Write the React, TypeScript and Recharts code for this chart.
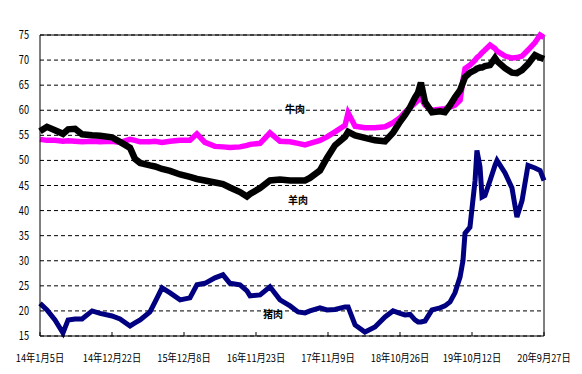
import { LineChart, Line, XAxis, YAxis, CartesianGrid, ReferenceLine, ReferenceDot } from "recharts";

// days since 14年1月5日
const dayOffsets = [
  0, 34, 73, 112, 137, 171, 205, 254, 293, 351, 390, 439, 463, 488, 536, 561, 595, 634, 683, 731,
  765, 804, 853, 892, 926, 975, 1009, 1024, 1073, 1121, 1170, 1219, 1258, 1292, 1316, 1365, 1399, 1438, 1487, 1502,
  1536, 1584, 1633, 1682, 1721, 1755, 1779, 1804, 1828, 1843, 1857, 1877, 1911, 1950, 1974, 1999, 2023, 2048, 2062, 2072,
  2096, 2121, 2130, 2145, 2155, 2169, 2194, 2218, 2228, 2267, 2301, 2325, 2350, 2379, 2413, 2438, 2457,
];

const porkPrice = [
  21.5, 20.2, 18.2, 15.6, 18.2, 18.4, 18.4, 20.0, 19.5, 19.0, 18.4, 17.0, 17.6, 18.2, 19.8, 21.8, 24.6, 23.6, 22.2, 22.6,
  25.2, 25.5, 26.6, 27.2, 25.5, 25.2, 24.0, 23.0, 23.2, 24.8, 22.2, 21.0, 19.8, 19.6, 20.0, 20.6, 20.2, 20.3, 20.8, 20.8,
  17.2, 15.8, 16.8, 18.8, 20.0, 19.5, 19.2, 19.3, 18.2, 17.8, 17.8, 18.0, 20.2, 20.6, 21.0, 21.8, 23.6, 26.8, 30.0, 35.5,
  36.7, 46.0, 52.0, 48.7, 42.7, 43.0, 46.0, 49.0, 50.0, 47.5, 44.5, 38.7, 42.0, 49.0, 48.5, 48.0, 46.0,
];

const beefPrice = [
  54.2, 54.0, 54.0, 53.8, 53.9, 53.8, 53.7, 53.8, 53.7, 53.8, 53.6, 54.2, 54.0, 53.7, 53.7, 53.8, 53.6, 53.8, 54.0, 54.0,
  55.3, 53.6, 52.8, 52.7, 52.6, 52.7, 53.0, 53.2, 53.4, 55.5, 53.8, 53.7, 53.4, 53.1, 53.4, 54.0, 54.7, 55.7, 57.0, 59.5,
  56.8, 56.5, 56.5, 56.7, 57.5, 58.5, 59.6, 60.5, 61.4, 62.0, 62.4, 61.0, 60.0, 60.2, 60.3, 60.6, 61.0, 62.0, 66.0, 68.3,
  69.0, 70.0, 70.5, 71.0, 71.5, 72.0, 73.0, 72.3, 71.8, 70.8, 70.4, 70.5, 70.8, 72.0, 73.5, 75.0, 74.5,
];

const muttonPrice = [
  55.8, 56.7, 56.0, 55.3, 56.2, 56.3, 55.2, 55.0, 54.9, 54.6, 53.7, 52.5, 50.3, 49.5, 49.0, 48.8, 48.3, 47.9, 47.2, 46.7,
  46.3, 46.0, 45.6, 45.3, 44.6, 43.7, 42.8, 43.3, 44.5, 46.0, 46.2, 46.0, 46.0, 46.0, 46.5, 48.0, 50.5, 53.0, 54.7, 55.7,
  55.0, 54.5, 54.0, 53.8, 55.5, 57.7, 59.0, 60.6, 62.5, 63.5, 65.5, 61.6, 59.6, 59.8, 59.6, 61.0, 62.6, 64.0, 65.5, 66.6,
  67.5, 68.0, 68.3, 68.5, 68.5, 68.8, 69.0, 70.4, 69.8, 68.4, 67.5, 67.4, 68.0, 69.2, 71.0, 70.5, 70.2,
];

const dateLabels = ["14年1月5日", "14年12月22日", "15年12月8日", "16年11月23日", "17年11月9日", "18年10月26日", "19年10月12日", "20年9月27日"];
const labelDays = [0, 351, 702, 1053, 1404, 1755, 2106, 2457];
const yTicks = [15, 20, 25, 30, 35, 40, 45, 50, 55, 60, 65, 70, 75];

const data = dayOffsets.map((d, i) => ({
  day: d,
  pork: porkPrice[i],
  beef: beefPrice[i],
  mutton: muttonPrice[i],
}));

// narrow text, like the old excel font
const textWidth = (s: string) => {
  let w = 0;
  for (const ch of s) w += /[0-9]/.test(ch) ? 5.1 : 9.3;
  return w;
};

const XTick = ({ x, y, payload }: any) => {
  const label = dateLabels[labelDays.indexOf(payload.value)] ?? "";
  return (
    <g>
      <line x1={x} x2={x} y1={y} y2={y - 4} stroke="#000" />
      <text x={x} y={y + 26} textAnchor="middle" fontSize={11} fill="#000" textLength={textWidth(label)} lengthAdjust="spacingAndGlyphs">
        {label}
      </text>
    </g>
  );
};

const YTick = ({ y, payload }: any) => {
  const s = String(payload.value);
  return (
    <text x={29} y={y + 4} textAnchor="end" fontSize={12} fill="#000" textLength={textWidth(s)} lengthAdjust="spacingAndGlyphs">
      {s}
    </text>
  );
};

const seriesLabel = (value: string) => ({ value, position: "center" as const, fontSize: 10, fontWeight: 700, fill: "#000" });

export default function App() {
  return (
    <div style={{ position: "fixed", left: 0, top: 0, width: 582, height: 374, background: "#fff", fontFamily: "'Noto Sans CJK SC', sans-serif" }}>
      <LineChart width={582} height={374} data={data} margin={{ top: 35, right: 38, bottom: 0, left: 0 }}>
        <CartesianGrid horizontal vertical={false} stroke="#000" strokeDasharray="4 3" />
        <XAxis
          dataKey="day"
          type="number"
          domain={[0, 2457]}
          ticks={labelDays}
          interval={0}
          height={38}
          tickSize={0}
          tickMargin={0}
          tickLine={false}
          axisLine={{ stroke: "#000" }}
          tick={<XTick />}
        />
        <YAxis
          type="number"
          domain={[15, 75]}
          ticks={yTicks}
          interval={0}
          width={40}
          tickSize={0}
          tickMargin={0}
          tickLine={false}
          axisLine={{ stroke: "#000" }}
          tick={<YTick />}
        />
        <ReferenceLine y={75} stroke="#000" />
        <ReferenceLine x={2457} stroke="#000" />
        <Line dataKey="beef" stroke="#FF00FF" strokeWidth={5.5} dot={false} isAnimationActive={false} />
        <Line dataKey="mutton" stroke="#000000" strokeWidth={6.5} dot={false} isAnimationActive={false} />
        <Line dataKey="pork" stroke="#000080" strokeWidth={5} dot={false} isAnimationActive={false} />
        <ReferenceDot x={1243} y={60.2} r={0} fill="none" stroke="none" label={seriesLabel("牛肉")} />
        <ReferenceDot x={1258} y={42.1} r={0} fill="none" stroke="none" label={seriesLabel("羊肉")} />
        <ReferenceDot x={1136} y={19.2} r={0} fill="none" stroke="none" label={seriesLabel("猪肉")} />
      </LineChart>
    </div>
  );
}
